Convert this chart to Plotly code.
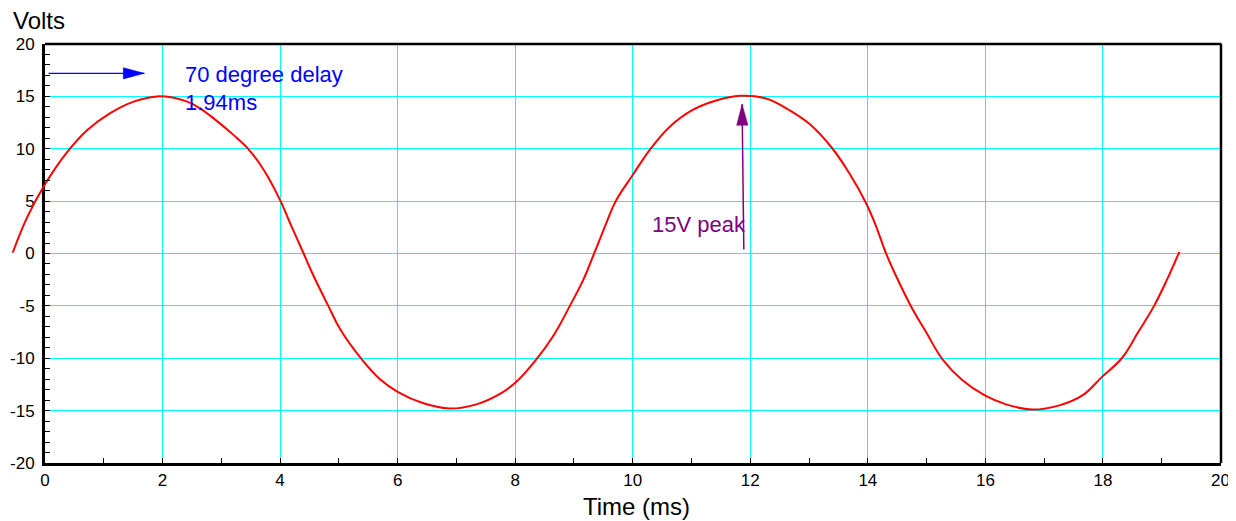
import numpy as np
import plotly.graph_objects as go

# ---------------- data ----------------
time_ms = [-0.55, -0.30, 0.01, 0.38, 0.72, 1.11, 1.51, 1.91, 2.42, 2.65, 2.98, 3.21,
           3.46, 3.72, 4.00, 4.17, 4.40, 4.57, 4.82, 5.02, 5.39, 5.70, 6.00, 6.44,
           6.89, 7.34, 7.74, 8.01, 8.36, 8.65, 8.93, 9.16, 9.35, 9.55, 9.71, 10.00,
           10.29, 10.63, 11.02, 11.42, 11.82, 12.27, 12.66, 13.00, 13.40, 13.68, 13.97,
           14.14, 14.31, 14.48, 14.74, 14.99, 15.27, 15.61, 15.99, 16.35, 16.80, 17.26,
           17.65, 17.98, 18.32, 18.60, 18.87, 19.09, 19.30]
volts = [0.07, 3.5, 6.7, 9.7, 11.8, 13.4, 14.5, 15.0, 14.5, 13.8, 12.4, 11.3,
         9.97, 8.0, 5.1, 2.9, 0.0, -2.15, -5.0, -7.2, -10.1, -12.0, -13.2, -14.3,
         -14.8, -14.4, -13.4, -12.3, -10.1, -7.85, -5.0, -2.5, 0.1, 2.9, 5.0, 7.5,
         9.9, 12.1, 13.7, 14.6, 15.05, 14.8, 13.7, 12.4, 10.0, 7.7, 4.8,
         2.6, 0.0, -2.15, -5.1, -7.5, -10.1, -12.1, -13.55, -14.4, -14.9, -14.5,
         -13.55, -11.8, -10.0, -7.5, -5.0, -2.5, 0.16]

x_tick_vals = [0, 2, 4, 6, 8, 10, 12, 14, 16, 18, 20]
x_tick_text = ["0", "2", "4", "6", "8", "10", "12", "14", "16", "18", "20"]
x_minor_step = 1
y_tick_vals = [-20, -15, -10, -5, 0, 5, 10, 15, 20]
y_tick_text = ["-20", "-15", "-10", "-5", "0", "5", "10", "15", "20"]
y_minor_step = 1

delay_arrow_t = [0.06, 1.69]
delay_arrow_v = [17.2, 17.2]
peak_arrow_t = [11.89, 11.86]
peak_arrow_v = [0.38, 14.25]

delay_text = ["70 degree delay", "1.94ms"]
delay_text_t = [2.35, 2.35]
delay_text_v = [17.1, 14.45]
peak_text = "15V peak"
peak_text_t = 10.29
peak_text_v = 2.75

# ---------------- layout constants (reference pixels) ----------------
W, H = 1236, 521
OFF = 8                      # default page margin of the html body
FW, FH = W - OFF, H - OFF    # figure size so that the page fits the window
PL, PR, PT, PB = 45.0, 1220.5, 44.0, 463.0
X_RANGE = [0, 20]
Y_RANGE = [-20, 20]
px_x = (PR - PL) / (X_RANGE[1] - X_RANGE[0])
px_y = (PB - PT) / (Y_RANGE[1] - Y_RANGE[0])
FONT = "Liberation Sans, Arial, Helvetica, sans-serif"
BLUE = "#0000FF"
PURPLE = "#800080"
GRID = "#00FFFF"


def paper_x(px):
    return (px - OFF) / FW


def paper_y(py):
    return 1 - (py - OFF) / FH


def arrow_head(t, v, length_px, half_px):
    x0, y0 = t[0] * px_x, v[0] * px_y
    x1, y1 = t[1] * px_x, v[1] * px_y
    d = np.hypot(x1 - x0, y1 - y0)
    ux, uy = (x1 - x0) / d, (y1 - y0) / d
    nx, ny = -uy, ux
    bx, by = x1 - ux * length_px, y1 - uy * length_px
    pts = [(x1, y1), (bx + nx * half_px, by + ny * half_px),
           (bx - nx * half_px, by - ny * half_px), (x1, y1)]
    return [p[0] / px_x for p in pts], [p[1] / px_y for p in pts]


fig = go.Figure()

curve_line = dict(color="#FF0000", width=2, shape="spline", smoothing=1.1)
fig.add_trace(go.Scatter(x=time_ms, y=volts, mode="lines", line=curve_line, hoverinfo="skip"))
# same curve on a side subplot, so the part left of the y axis stays visible
fig.add_trace(go.Scatter(x=time_ms, y=volts, mode="lines", xaxis="x2", yaxis="y2",
                         line=curve_line, hoverinfo="skip"))

# arrows live on an overlaid subplot (x3/y3) whose axes carry the minor ticks
for t, v, col, w in [(delay_arrow_t, delay_arrow_v, BLUE, 1.2),
                     (peak_arrow_t, peak_arrow_v, PURPLE, 1.5)]:
    fig.add_trace(go.Scatter(x=t, y=v, mode="lines", line=dict(color=col, width=w),
                             xaxis="x3", yaxis="y3", hoverinfo="skip"))
    hx, hy = arrow_head(t, v, 21, 5.7)
    fig.add_trace(go.Scatter(x=hx, y=hy, mode="lines", fill="toself", fillcolor=col,
                             line=dict(color=col, width=0.5), xaxis="x3", yaxis="y3",
                             hoverinfo="skip"))

annotations = []
for txt, t, v in zip(delay_text, delay_text_t, delay_text_v):
    annotations.append(dict(x=t, y=v, xref="x", yref="y", text=txt, showarrow=False,
                            xanchor="left", yanchor="middle",
                            font=dict(family=FONT, size=22, color=BLUE)))
annotations.append(dict(x=peak_text_t, y=peak_text_v, xref="x", yref="y", text=peak_text,
                        showarrow=False, xanchor="left", yanchor="middle",
                        font=dict(family=FONT, size=22, color=PURPLE)))
annotations.append(dict(x=paper_x(11), y=paper_y(20), xref="paper", yref="paper", text="Volts",
                        showarrow=False, xanchor="left", yanchor="middle",
                        font=dict(family=FONT, size=24, color="black")))
annotations.append(dict(x=paper_x(636), y=paper_y(506), xref="paper", yref="paper",
                        text="Time (ms)", showarrow=False, xanchor="center", yanchor="middle",
                        font=dict(family=FONT, size=24, color="black")))

tickfont = dict(family=FONT, size=17, color="black")
XDOM = [paper_x(PL), paper_x(PR)]
YDOM = [paper_y(PB), paper_y(PT)]


def major_axis(vals, text):
    return dict(tickmode="array", tickvals=vals, ticktext=text,
                showgrid=True, gridcolor=GRID, gridwidth=1, zeroline=False,
                showline=True, linecolor="black", linewidth=3,
                ticks="inside", ticklen=5, tickwidth=1, tickcolor="black",
                tickfont=tickfont, automargin=False)


def minor_axis(step):
    return dict(tickmode="linear", tick0=0, dtick=step, showticklabels=False,
                showgrid=False, zeroline=False, showline=False,
                ticks="inside", ticklen=5, tickwidth=1, tickcolor="black",
                automargin=False)


fig.update_layout(
    template="none",
    width=FW, height=FH,
    margin=dict(l=0, r=0, t=0, b=0, pad=0),
    paper_bgcolor="white", plot_bgcolor="white",
    showlegend=False, hovermode=False,
    xaxis=dict(domain=XDOM, range=X_RANGE, anchor="y", **major_axis(x_tick_vals, x_tick_text)),
    yaxis=dict(domain=YDOM, range=Y_RANGE, anchor="x", ticklabelstandoff=4,
               **major_axis(y_tick_vals, y_tick_text)),
    xaxis3=dict(domain=XDOM, range=X_RANGE, anchor="y3", overlaying="x", side="bottom",
                **minor_axis(x_minor_step)),
    yaxis3=dict(domain=YDOM, range=Y_RANGE, anchor="x3", overlaying="y", side="left",
                **minor_axis(y_minor_step)),
    xaxis2=dict(domain=[0, paper_x(PL)], range=[-(PL - OFF) / px_x, 0], visible=False,
                anchor="y2", showgrid=False, zeroline=False),
    yaxis2=dict(domain=YDOM, range=Y_RANGE, visible=False, anchor="x2",
                showgrid=False, zeroline=False),
    annotations=annotations,
    shapes=[
        dict(type="line", xref="paper", yref="paper", x0=paper_x(PL), x1=paper_x(PR + 1),
             y0=paper_y(PT), y1=paper_y(PT), line=dict(color="black", width=2.5)),
        dict(type="line", xref="paper", yref="paper", x0=paper_x(PR + 0.5), x1=paper_x(PR + 0.5),
             y0=paper_y(PT), y1=paper_y(PB), line=dict(color="black", width=2.5)),
    ],
)

fig.write_html("out.html")
